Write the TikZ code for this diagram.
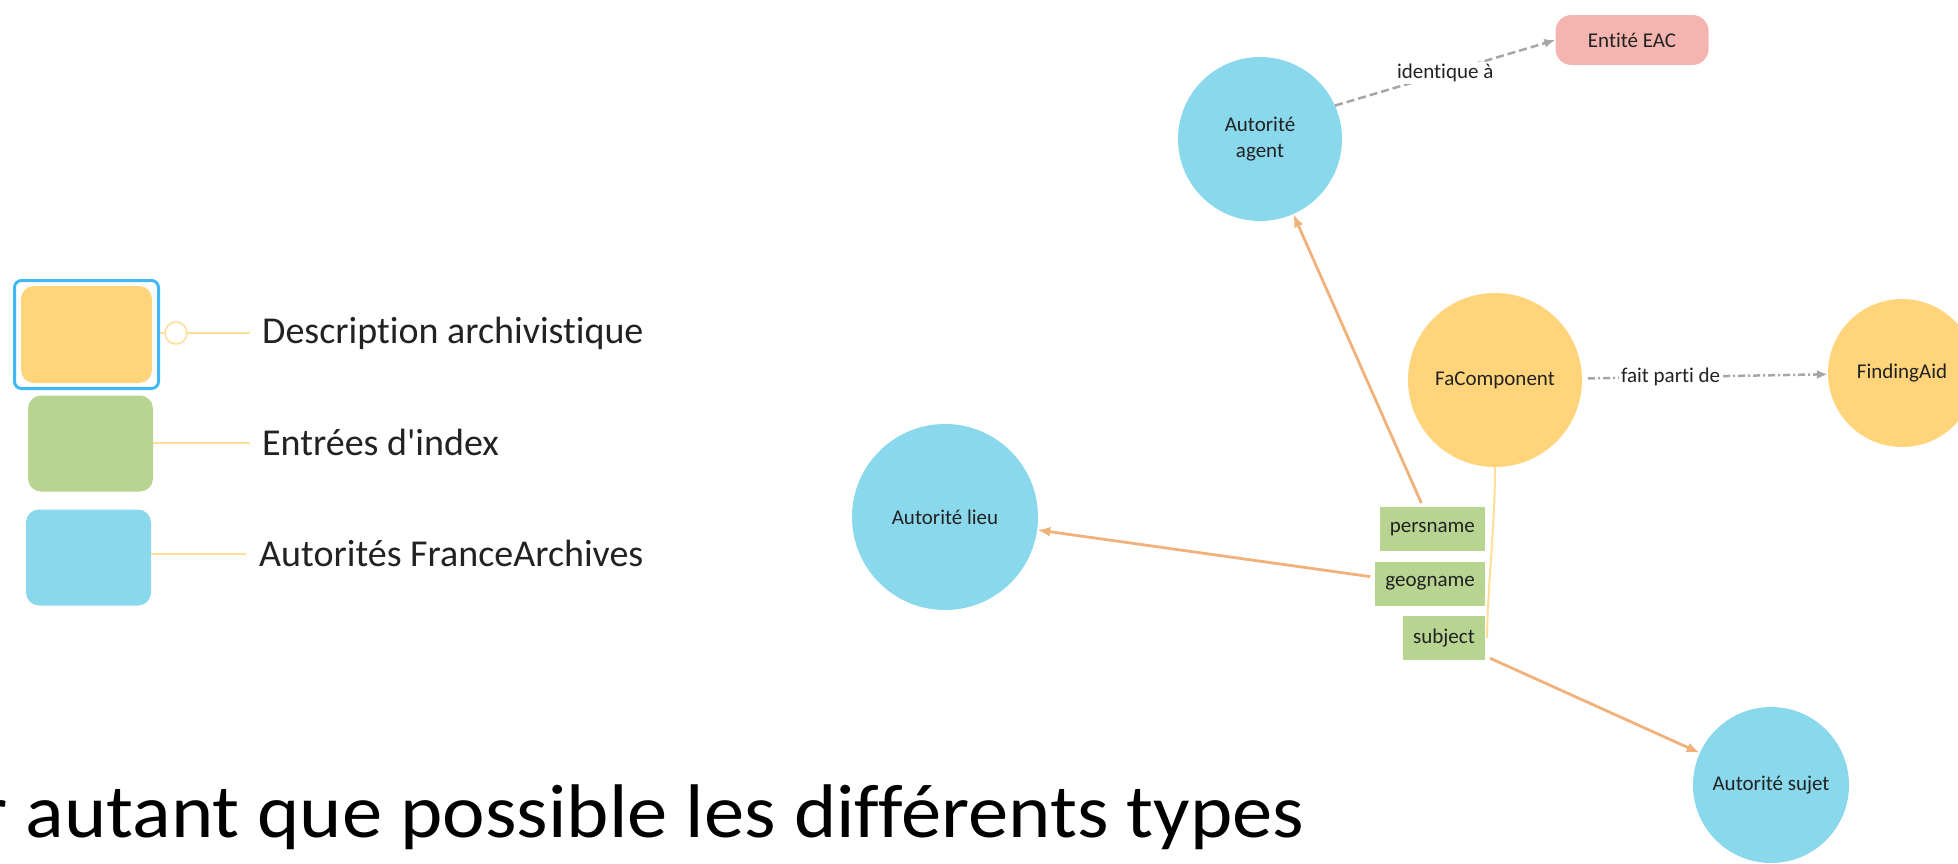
\documentclass[tikz,border=0pt]{standalone}
\usepackage{fontspec}
\setmainfont{Carlito}[Ligatures=NoCommon]
\usetikzlibrary{arrows.meta,positioning}
\definecolor{descyellow}{RGB}{255,212,122}
\definecolor{indexgreen}{RGB}{183,212,145}
\definecolor{authblue}{RGB}{137,216,236}
\definecolor{eacpink}{RGB}{244,181,176}
\definecolor{linkorange}{RGB}{240,178,122}
\definecolor{linkgrey}{RGB}{166,166,166}
\definecolor{selblue}{RGB}{64,184,246}
\definecolor{hubyellow}{RGB}{255,221,150}
\definecolor{labeltext}{RGB}{34,34,34}

\begin{document}
\begin{tikzpicture}[x=1pt,y=-1pt] % pixel coordinates, y grows downwards
\tikzset{entity/.style={circle, inner sep=0pt, font=\fontsize{21}{26}\selectfont, text=labeltext, align=center}}
\tikzset{indexbox/.style={rectangle, fill=indexgreen, inner xsep=10pt, minimum height=44pt, font=\fontsize{21}{26}\selectfont, text=labeltext}}
\tikzset{legbox/.style={rectangle, rounded corners=13pt, minimum width=125pt, minimum height=96pt}}
\tikzset{legtext/.style={anchor=base west, inner sep=0pt, font=\fontsize{38}{40}\selectfont, text=labeltext}}
\tikzset{legline/.style={hubyellow, line width=2pt}}
\tikzset{indexlink/.style={draw=linkorange, line width=2.8pt, -{Latex[length=13pt,width=10pt]}}}
\tikzset{relation/.style={draw=linkgrey, line width=2.5pt, -{Latex[length=11pt,width=9pt]}}}
\tikzset{rellabel/.style={fill=white, inner sep=2pt, font=\fontsize{21}{26}\selectfont, text=labeltext}}
%\draw[help lines] (0,0) grid[step=100] (1958,863);
\useasboundingbox (0,0) rectangle (1958,863);

% legend
\node[legbox, fill=descyellow, minimum width=131pt, minimum height=97pt] (desclegend) at (86.5,334.5) {};
\node[draw=selblue, line width=3pt, rounded corners=7pt, minimum width=144pt, minimum height=108pt] (descframe) at (desclegend) {};
\node[legbox, fill=indexgreen] (indexlegend) at (90.5,443.5) {};
\node[legbox, fill=authblue] (authlegend) at (88.5,557.5) {};
\node[legtext] (desctext) at (262,343) {Description archivistique};
\node[legtext] (indextext) at (262,455) {Entrées d\textquotesingle index};
\node[legtext] (authtext) at (259,566) {Autorités FranceArchives};
\coordinate (deschook) at ([xshift=-12pt,yshift=10pt]desctext.base west);
\coordinate (indexhook) at ([xshift=-12pt,yshift=12pt]indextext.base west);
\coordinate (authhook) at ([xshift=-13pt,yshift=12pt]authtext.base west);
\draw[legline] (descframe.east |- deschook) -- (deschook);
\node[circle, draw=hubyellow, fill=white, line width=1.5pt, minimum size=22pt, inner sep=0pt] (deschandle) at ([xshift=16pt]descframe.east |- deschook) {};
\draw[legline] (indexlegend.east |- indexhook) -- (indexhook);
\draw[legline] (authlegend.east |- authhook) -- (authhook);

% graph
\node[entity, fill=authblue, minimum size=164pt] (agent) at (1260,139) {Autorité\\agent};
\node[entity, rectangle, fill=eacpink, rounded corners=16pt, minimum width=153pt, minimum height=50pt] (eac) at (1632,40) {Entité EAC};
\node[entity, fill=descyellow, minimum size=174pt] (fac) at (1495,380) {FaComponent};
\node[entity, fill=descyellow, minimum size=148pt] (finding) at (1902,373) {FindingAid};
\node[entity, fill=authblue, minimum size=186pt] (lieu) at (945,517) {Autorité lieu};
\node[entity, fill=authblue, minimum size=156pt] (sujet) at (1771,785) {Autorité sujet};
\node[indexbox, anchor=north east] (persname) at (1485,507) {persname};
\node[indexbox, below left=10pt and 0pt of persname.south east] (geogname) {geogname};
\node[indexbox, below left=10pt and 0pt of geogname.south east] (subject) {subject};

\draw[hubyellow, line width=2pt] (fac.south) .. controls +(0,60) and +(1,-60) .. ([xshift=2pt]subject.east);
\draw[indexlink] ([xshift=-11pt,yshift=4pt]persname.north) -- (agent);
\draw[indexlink] ([xshift=-5pt,yshift=7pt]geogname.west) -- (lieu);
\draw[indexlink] ([xshift=5pt,yshift=2pt]subject.south east) -- (sujet);

\draw[relation, dash pattern=on 8pt off 4pt] (agent.24) -- node[rellabel] {identique à} (eac.west);
\draw[relation, dash pattern=on 7pt off 3pt on 2pt off 3pt, shorten <=6pt] (fac) -- node[rellabel, pos=0.36] {fait parti de} (finding);

% caption, cut on the left
\node[anchor=base west, inner sep=0pt, font=\fontsize{76}{80}\selectfont\addfontfeature{FakeStretch=1.06}] (caption) at (-21,837) {r autant que possible les différents types};
\end{tikzpicture}
\end{document}
